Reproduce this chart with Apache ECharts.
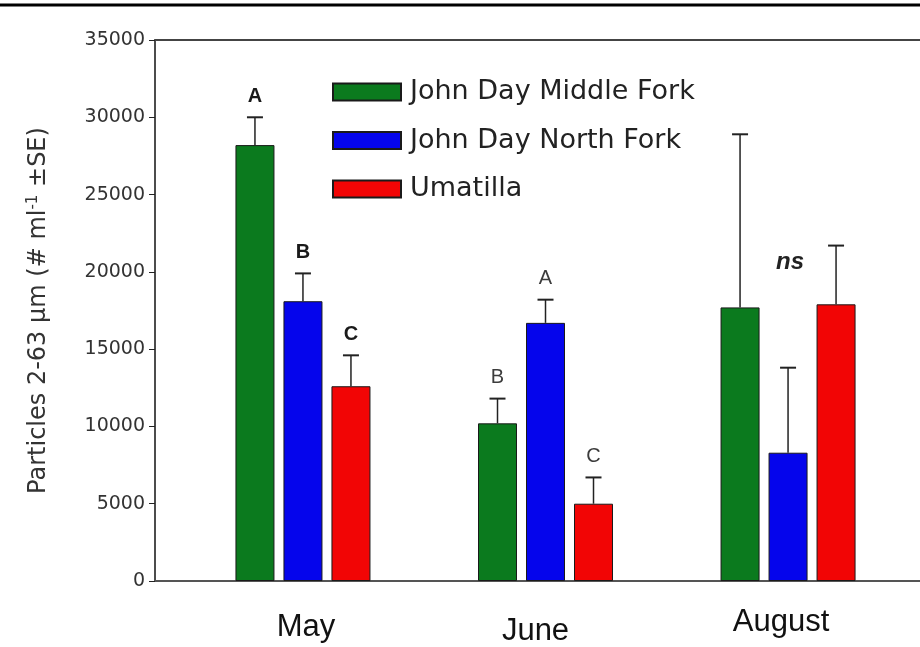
<!DOCTYPE html>
<html>
<head>
<meta charset="utf-8">
<script src="https://cdn.jsdelivr.net/npm/echarts@6/dist/echarts.min.js"></script>
<style>
  html, body { margin: 0; padding: 0; background: #ffffff; }
  #chart { width: 920px; height: 647px; }
</style>
</head>
<body>
<div id="chart"></div>
<script>
// Sampling months and river sites
const months = ['May', 'June', 'August'];
const siteNames = ['John Day Middle Fork', 'John Day North Fork', 'Umatilla'];

// Mean particle counts (2-63 µm, # per ml) and their standard errors
const middleFork   = [28200, 10200, 17700];
const middleForkSE = [1800, 1600, 11200];
const northFork    = [18100, 16700, 8300];
const northForkSE  = [1800, 1500, 5500];
const umatilla     = [12600, 5000, 17900];
const umatillaSE   = [2000, 1700, 3800];

// Significance letters per month (one per site) and a group note
const letters = [['A', 'B', 'C'], ['B', 'A', 'C'], ['', '', '']];
const groupNotes = [{ month: 2, text: 'ns', level: 20600 }];

// Y axis ticks
const yMin = 0, yMax = 35000, yStep = 5000;

const siteValues = [middleFork, northFork, umatilla];
const siteErrors = [middleForkSE, northForkSE, umatillaSE];
const siteColors = ['#0b7a1e', '#0505ec', '#f20505'];

const BAR_W = 39;
const BAR_STEP = 48;

const errorItems = [];
const letterItems = [];
siteValues.forEach((vals, s) => {
  vals.forEach((v, i) => {
    errorItems.push([i, s, v, siteErrors[s][i]]);
    if (letters[i][s]) {
      letterItems.push({ i: i, s: s, top: v + siteErrors[s][i], text: letters[i][s] });
    }
  });
});

const chart = echarts.init(document.getElementById('chart'), null, { renderer: 'canvas' });

const xRange = { min: -0.61, max: 2.544 };

const option = {
  backgroundColor: '#ffffff',
  animation: false,
  graphic: [{
    type: 'line',
    shape: { x1: 0, y1: 5, x2: 920, y2: 5 },
    style: { stroke: '#000000', lineWidth: 3 }
  }],
  grid: { left: 155, right: 0, top: 40, bottom: 66, containLabel: false },
  legend: {
    data: siteNames,
    orient: 'vertical',
    left: 327,
    top: 73.5,
    itemWidth: 68,
    itemHeight: 17,
    itemGap: 21.5,
    icon: 'rect',
    selectedMode: false,
    textStyle: {
      fontFamily: 'DejaVu Sans',
      fontSize: 27,
      color: '#222222',
      lineHeight: 17,
      padding: [0, 0, 0, 4]
    }
  },
  xAxis: [{
    type: 'value',
    min: xRange.min,
    max: xRange.max,
    position: 'bottom',
    axisLine: { show: true, onZero: false, lineStyle: { color: '#555555', width: 2 } },
    axisTick: { show: false },
    splitLine: { show: false },
    axisLabel: {
      customValues: [0, 1, 2],
      margin: 26,
      formatter: v => '{m' + v + '|' + months[v] + '}',
      rich: {
        m0: { fontFamily: 'Liberation Sans', fontSize: 31, color: '#111111', padding: [5, 0, 0, 6] },
        m1: { fontFamily: 'Liberation Sans', fontSize: 31, color: '#111111', padding: [9, 20, 0, 0] },
        m2: { fontFamily: 'Liberation Sans', fontSize: 31, color: '#111111', padding: [0, 14, 0, 0] }
      }
    }
  }, {
    type: 'value',
    min: xRange.min,
    max: xRange.max,
    position: 'top',
    axisLine: { show: true, onZero: false, lineStyle: { color: '#444444', width: 2 } },
    axisTick: { show: false },
    axisLabel: { show: false },
    splitLine: { show: false }
  }],
  yAxis: {
    type: 'value',
    min: yMin,
    max: yMax,
    interval: yStep,
    position: 'left',
    axisLine: { show: true, onZero: false, lineStyle: { color: '#111111', width: 1.5 } },
    axisTick: { show: true, length: 6, lineStyle: { color: '#222222', width: 1 } },
    splitLine: { show: false },
    axisLabel: {
      fontFamily: 'DejaVu Sans', fontSize: 19, color: '#333333', margin: 10,
      formatter: v => String(v)
    },
    name: '{t|Particles 2-63 µm (# ml}{sup|-1}{t| ±SE)}',
    nameLocation: 'middle',
    nameRotate: 90,
    nameGap: 103,
    nameTextStyle: {
      rich: {
        t: { fontFamily: 'DejaVu Sans', fontSize: 24, color: '#333333', lineHeight: 26 },
        sup: { fontFamily: 'DejaVu Sans', fontSize: 15, color: '#333333', lineHeight: 12, verticalAlign: 'top' }
      }
    }
  },
  series: [
    ...siteValues.map((vals, s) => ({
      type: 'bar',
      name: siteNames[s],
      data: vals.map((v, i) => [i, v]),
      barWidth: BAR_W,
      barGap: ((BAR_STEP - BAR_W) / BAR_W * 100) + '%',
      itemStyle: { color: siteColors[s], borderColor: '#1a1a1a', borderWidth: 1 },
      z: 2
    })),
    {
      type: 'custom',
      name: 'se',
      silent: true,
      z: 3,
      data: errorItems,
      encode: { x: 0, y: 2 },
      renderItem: function (params, api) {
        const i = api.value(0), s = api.value(1), v = api.value(2), e = api.value(3);
        const base = api.coord([i, v]);
        const top = api.coord([i, v + e]);
        const x = base[0] + (s - 1) * BAR_STEP;
        return {
          type: 'group',
          children: [
            { type: 'line', shape: { x1: x, y1: base[1], x2: x, y2: top[1] },
              style: { stroke: '#222222', lineWidth: 1.5 } },
            { type: 'line', shape: { x1: x - 8, y1: top[1], x2: x + 8, y2: top[1] },
              style: { stroke: '#222222', lineWidth: 2 } }
          ]
        };
      }
    },
    {
      type: 'custom',
      name: 'letters',
      silent: true,
      z: 4,
      data: letterItems.map(d => [d.i, d.top]),
      encode: { x: 0, y: 1 },
      renderItem: function (params, api) {
        const item = letterItems[params.dataIndex];
        const p = api.coord([item.i, item.top]);
        const bold = item.i === 0;
        return {
          type: 'text',
          x: p[0] + (item.s - 1) * BAR_STEP,
          y: p[1] - 21,
          style: {
            text: item.text,
            fill: bold ? '#1a1a1a' : '#3c3c3c',
            font: (bold ? 'bold ' : '') + '20px "Liberation Sans", Arial, sans-serif',
            align: 'center',
            verticalAlign: 'middle'
          }
        };
      }
    },
    {
      type: 'custom',
      name: 'notes',
      silent: true,
      z: 4,
      data: groupNotes.map(n => [n.month, n.level]),
      encode: { x: 0, y: 1 },
      renderItem: function (params, api) {
        const note = groupNotes[params.dataIndex];
        const p = api.coord([note.month, note.level]);
        return {
          type: 'text',
          x: p[0] + 2,
          y: p[1],
          style: {
            text: note.text,
            fill: '#222222',
            font: 'italic bold 24px "Liberation Sans", Arial, sans-serif',
            align: 'center',
            verticalAlign: 'middle'
          }
        };
      }
    }
  ]
};

chart.setOption(option);
</script>
</body>
</html>
